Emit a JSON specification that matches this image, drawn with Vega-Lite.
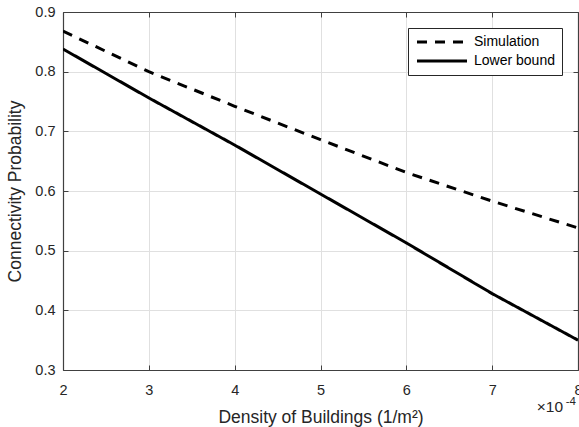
{
  "$schema": "https://vega.github.io/schema/vega-lite/v6.json",
  "autosize": "none",
  "width": 515,
  "height": 358,
  "padding": {"left": 63, "top": 12, "right": 1, "bottom": 57},
  "background": "white",
  "config": {
    "view": {"stroke": null},
    "font": "Liberation Sans",
    "axis": {
      "domainColor": "#404040",
      "domainWidth": 1.2,
      "tickColor": "#404040",
      "tickWidth": 1,
      "gridColor": "#e0e0e0",
      "gridWidth": 1,
      "labelColor": "#262626",
      "titleColor": "#262626",
      "labelFont": "Liberation Sans",
      "titleFont": "Liberation Sans",
      "labelFontSize": 14.5,
      "titleFontSize": 17.5,
      "titleFontWeight": "normal"
    }
  },
  "data": {
    "values": [
      {"density": 2, "p": 0.868, "series": "Simulation"},
      {"density": 3, "p": 0.800, "series": "Simulation"},
      {"density": 4, "p": 0.742, "series": "Simulation"},
      {"density": 5, "p": 0.686, "series": "Simulation"},
      {"density": 6, "p": 0.631, "series": "Simulation"},
      {"density": 7, "p": 0.583, "series": "Simulation"},
      {"density": 8, "p": 0.538, "series": "Simulation"},
      {"density": 2, "p": 0.838, "series": "Lower bound"},
      {"density": 3, "p": 0.756, "series": "Lower bound"},
      {"density": 4, "p": 0.677, "series": "Lower bound"},
      {"density": 5, "p": 0.595, "series": "Lower bound"},
      {"density": 6, "p": 0.513, "series": "Lower bound"},
      {"density": 7, "p": 0.428, "series": "Lower bound"},
      {"density": 8, "p": 0.350, "series": "Lower bound"}
    ]
  },
  "layer": [
    {
      "mark": {"type": "line", "color": "black", "strokeWidth": 3, "clip": true},
      "encoding": {
        "x": {
          "field": "density", "type": "quantitative",
          "scale": {"domain": [2, 8], "nice": false, "zero": false},
          "axis": {
            "orient": "bottom", "values": [2, 3, 4, 5, 6, 7, 8], "format": "d",
            "tickSize": -5, "labelPadding": 18, "labelFlush": false,
            "title": "Density of Buildings (1/m²)", "titlePadding": 12
          }
        },
        "y": {
          "field": "p", "type": "quantitative",
          "scale": {"domain": [0.3, 0.9], "nice": false, "zero": false},
          "axis": {
            "orient": "left", "values": [0.3, 0.4, 0.5, 0.6, 0.7, 0.8, 0.9], "format": ".1f",
            "tickSize": -5, "labelPadding": 13, "labelFlush": false,
            "title": "Connectivity Probability", "titlePadding": 10
          }
        },
        "strokeDash": {
          "field": "series", "type": "nominal",
          "scale": {"domain": ["Simulation", "Lower bound"], "range": [[10, 8], [1, 0]]},
          "legend": {
            "title": null,
            "orient": "none",
            "legendX": 345,
            "legendY": 16,
            "symbolType": "M-1,0H9",
            "symbolSize": 100,
            "symbolStrokeWidth": 3,
            "symbolStrokeColor": "black",
            "symbolFillColor": "transparent",
            "labelFontSize": 14,
            "labelFont": "Liberation Sans",
            "labelColor": "black",
            "labelOffset": 45,
            "rowPadding": 5,
            "padding": 7,
            "strokeColor": "#262626",
            "fillColor": "white"
          }
        }
      }
    },
    {
      "mark": {"type": "line", "opacity": 0},
      "encoding": {
        "x": {
          "field": "density", "type": "quantitative",
          "axis": {"orient": "top", "values": [2, 3, 4, 5, 6, 7, 8], "labels": false, "grid": false, "tickSize": -5, "title": null}
        },
        "y": {
          "field": "p", "type": "quantitative",
          "axis": {"orient": "right", "values": [0.3, 0.4, 0.5, 0.6, 0.7, 0.8, 0.9], "labels": false, "grid": false, "tickSize": -5, "title": null}
        }
      }
    },
    {
      "data": {"values": [{"label": "×10"}]},
      "mark": {"type": "text", "align": "right", "baseline": "alphabetic", "dx": -15, "dy": 42, "fontSize": 15.5, "color": "#262626", "font": "Liberation Sans"},
      "encoding": {"text": {"field": "label"}, "x": {"datum": 8, "axis": null}, "y": {"datum": 0.3, "axis": null}}
    },
    {
      "data": {"values": [{"label": "-4"}]},
      "mark": {"type": "text", "align": "right", "baseline": "alphabetic", "dx": -2, "dy": 35, "fontSize": 11.5, "color": "#262626", "font": "Liberation Sans"},
      "encoding": {"text": {"field": "label"}, "x": {"datum": 8, "axis": null}, "y": {"datum": 0.3, "axis": null}}
    }
  ],
  "resolve": {"axis": {"x": "independent", "y": "independent"}}
}
